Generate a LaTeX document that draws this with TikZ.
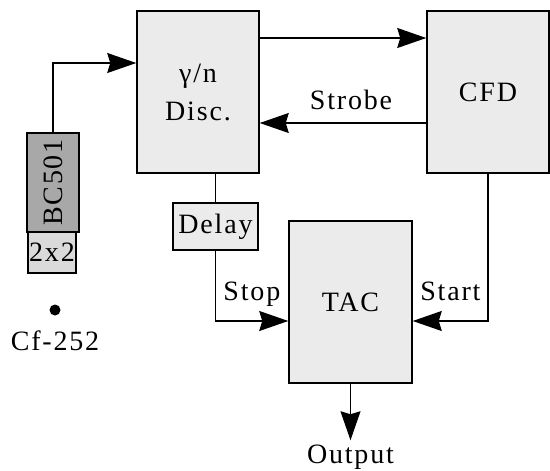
\documentclass[tikz,border=0pt]{standalone}
\usepackage{fontspec}
\setmainfont{Liberation Serif}[LetterSpace=6.5]
\usepackage{graphicx}
\usetikzlibrary{arrows.meta}
\definecolor{boxgray}{RGB}{235,235,235}
\definecolor{detgray}{RGB}{168,168,168}
\definecolor{pmtgray}{RGB}{218,218,218}
\tikzset{
  blk/.style={draw, line width=1.5pt, fill=boxgray, inner sep=0pt},
  wire/.style={line width=1.3pt},
  sig/.style={wire, -{Stealth[length=29pt,width=20pt,inset=3pt]}},
}
\begin{document}
\begin{tikzpicture}[x=1pt,y=-1pt,font=\fontsize{28}{38}\selectfont]
    \useasboundingbox (0,0) rectangle (550,471);
    % blocks
    \node [blk, minimum width=122, minimum height=162, align=center] (disc) at (198,92) {γ/n\\Disc.};
    \node [blk, minimum width=122, minimum height=162] (cfd) at (488,92) {CFD};
    \node [blk, minimum width=123, minimum height=162] (tac) at (350.5,302) {TAC};
    \node [blk, minimum width=85, minimum height=47] (delay) at (215.5,226.5) {Delay};
    % detector
    \node [blk, fill=detgray, minimum width=52, minimum height=99] (bc) at (53,182.5) {\rotatebox{90}{BC501}};
    \node [blk, fill=pmtgray, minimum width=48, minimum height=41] (pmt) at (52,252.5) {2x2};
    \node [circle, fill, inner sep=0pt, minimum size=11] (src) at (55,310) {};
    \node [anchor=base] (srclbl) at (55,350) {Cf-252};
    \node [anchor=base, inner sep=0pt] (out) at (350.5,463) {Output};
    % signals
    \draw [sig] (bc.north) |- ([yshift=29pt]disc.west);
    \draw [sig] ([yshift=54pt]disc.east) -- ([yshift=54pt]cfd.west);
    \draw [sig] ([yshift=-31pt]cfd.west) -- node [anchor=base, yshift=14pt, xshift=8pt] {Strobe} ([yshift=-31pt]disc.east);
    \draw [wire] (delay.north) -- (delay.north |- disc.south);
    \draw [sig] (delay.south) |- node [pos=0.75, anchor=base, yshift=21pt] {Stop} ([yshift=-19pt]tac.west);
    \draw [sig] (cfd.south) |- node [pos=0.75, anchor=base, yshift=21pt] {Start} ([yshift=-19pt]tac.east);
    \draw [sig] (tac.south) -- ([yshift=4pt]out.north);
\end{tikzpicture}
\end{document}
